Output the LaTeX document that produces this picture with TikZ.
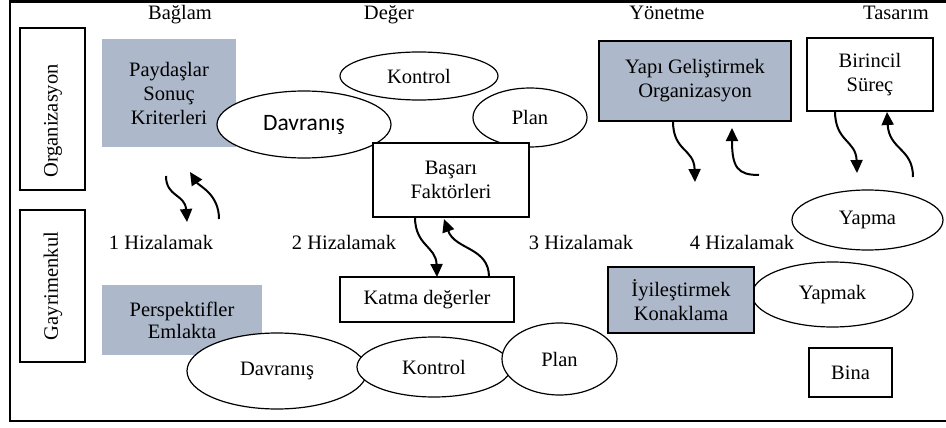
\documentclass[tikz,border=0pt]{standalone}
\usepackage{fontspec}
\setmainfont{Liberation Serif}
\newfontfamily\calib{Carlito}
\usetikzlibrary{shapes.geometric,arrows.meta}
\definecolor{gb}{RGB}{173,185,202}
\begin{document}
\begin{tikzpicture}[x=1pt,y=-1pt]
\tikzset{
 txt/.style={font=\fontsize{20.5}{24}\selectfont, inner sep=0pt, align=center},
 bx/.style={txt, draw, line width=1.2pt, fill=white},
 fbx/.style={txt, draw, line width=1.2pt, fill=gb},
 pbx/.style={txt, fill=gb},
 el/.style={txt, ellipse, draw, line width=1.2pt, fill=white},
 arr/.style={line width=2pt, -{Triangle[length=13pt,width=12pt]}},
 hdr/.style={txt, anchor=base},
}
\useasboundingbox (0,0) rectangle (946,428);
% frame
\draw[line width=2.4pt] (947,1.5) -- (10,1.5) -- (10,421) -- (947,421);

% headers
\node[hdr] (h1) at (180,20) {Bağlam};
\node[hdr] (h2) at (389,20) {Değer};
\node[hdr] (h3) at (667,20) {Yönetme};
\node[hdr] (h4) at (896,20) {Tasarım};

% side boxes
\node[bx, minimum width=65pt, minimum height=162pt] (org) at (52.5,109) {};
\node[txt, rotate=90] (orgt) at (53,121) {Organizasyon};
\node[bx, minimum width=65pt, minimum height=152pt] (gay) at (52.5,286) {};
\node[txt, rotate=90] (gayt) at (53,286) {Gayrimenkul};

% upper left / middle
\node[pbx, minimum width=134pt, minimum height=108pt] (pay) at (169,93) {Paydaşlar\\Sonuç\\Kriterleri};
\node[el, minimum width=174pt, minimum height=67pt, font=\calib\fontsize{23.5}{27}\selectfont] (dav1) at (304,124.5) {Davranış};
\node[el, minimum width=158pt, minimum height=48pt] (kon1) at (419,76) {Kontrol};
\node[el, minimum width=114pt, minimum height=59pt] (plan1) at (530,117.5) {Plan};
\node[bx, minimum width=156pt, minimum height=74pt] (bas) at (451,180) {Başarı\\Faktörleri};

% right upper
\node[fbx, minimum width=192pt, minimum height=80pt] (yapi) at (695,81) {Yapı Geliştirmek\\Organizasyon};
\node[bx, minimum width=126pt, minimum height=73pt] (bir) at (870,74.5) {Birincil\\Süreç};
\node[el, minimum width=151pt, minimum height=60pt] (yapma) at (867.5,220) {Yapma};
\node[el, minimum width=161pt, minimum height=65pt] (yapmak) at (832.5,294.5) {Yapmak};
\node[fbx, minimum width=146pt, minimum height=66pt] (iyi) at (681,300) {İyileştirmek\\Konaklama};
\node[bx, minimum width=83pt, minimum height=49pt] (bina) at (850.5,372.5) {Bina};

% lower
\node[bx, minimum width=174pt, minimum height=45pt] (katma) at (427,299.5) {Katma değerler};
\node[pbx, minimum width=160pt, minimum height=70pt, font=\fontsize{20.5}{22}\selectfont] (pers) at (182,320) {Perspektifler\\Emlakta};
\node[el, minimum width=180pt, minimum height=76pt] (dav2) at (277,371) {Davranış};
\node[el, minimum width=154pt, minimum height=60pt] (kon2) at (434,367) {Kontrol};
\node[el, minimum width=115pt, minimum height=72pt] (plan2) at (559.5,359) {Plan};

% alignment labels
\node[hdr] (a1) at (161,249) {1 Hizalamak};
\node[hdr] (a2) at (344,249) {2 Hizalamak};
\node[hdr] (a3) at (581,249) {3 Hizalamak};
\node[hdr] (a4) at (742,249) {4 Hizalamak};

% arrow coordinates
\coordinate (p1s) at (166,176);  \coordinate (p1e) at (187,222);
\coordinate (q1s) at (219,219);  \coordinate (q1e) at (190,172);
\coordinate (p2s) at (415,217);  \coordinate (p2e) at (437,277);
\coordinate (q2s) at (489,277);  \coordinate (q2e) at (444,219);
\coordinate (p3s) at (673,121);  \coordinate (p3e) at (695,182);
\coordinate (q3s) at (759,175);  \coordinate (q3e) at (732,128);
\coordinate (p4s) at (835,111);  \coordinate (p4e) at (857,173);
\coordinate (q4s) at (913,177);  \coordinate (q4e) at (887,112);

\draw[arr] (p1s) .. controls (166,197) and (185,194) .. (p1e);
\draw[arr] (q1s) .. controls (219,194) and (199,186) .. (q1e);
\draw[arr] (p2s) .. controls (415,246) and (436,246) .. (p2e);
\draw[arr] (q2s) .. controls (489,247) and (455,250) .. (q2e);
\draw[arr] (p3s) .. controls (673,152) and (694,148) .. (p3e);
\draw[arr] (q3s) .. controls (738,175) and (732,168) .. (q3e);
\draw[arr] (p4s) .. controls (835,142) and (856,140) .. (p4e);
\draw[arr] (q4s) .. controls (913,148) and (889,150) .. (q4e);
\end{tikzpicture}
\end{document}
